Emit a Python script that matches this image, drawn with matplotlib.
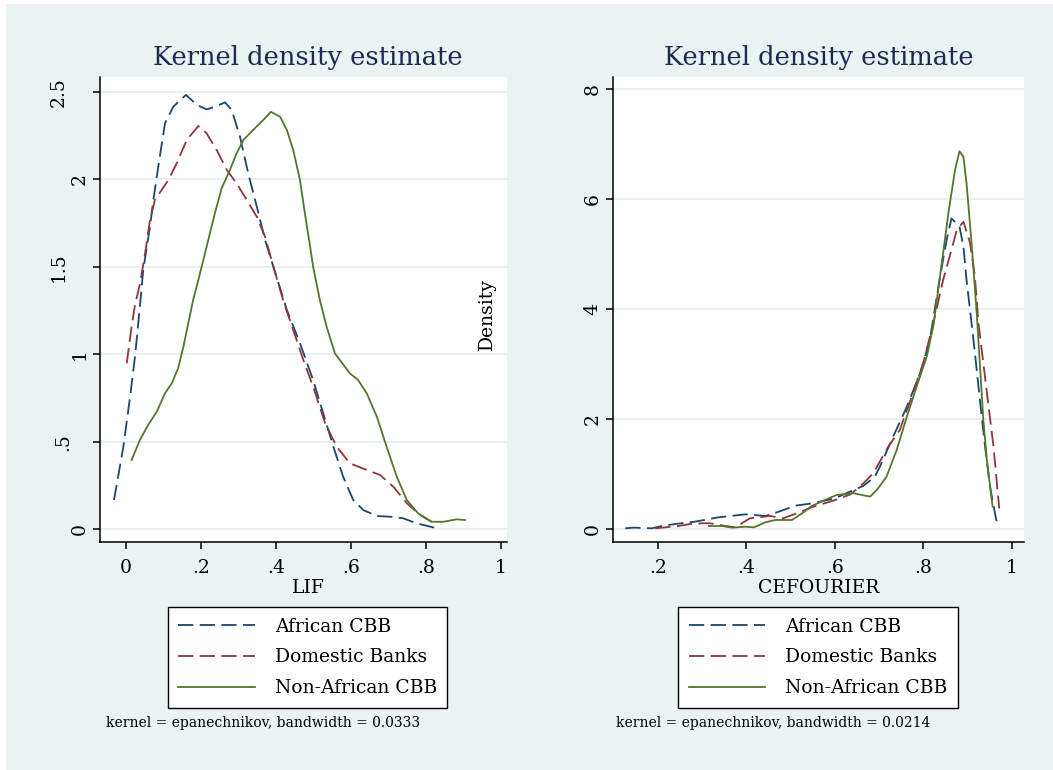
import matplotlib
matplotlib.use("Agg")
import matplotlib.pyplot as plt
import matplotlib.transforms as mtransforms
from matplotlib.patches import Rectangle

## DATA ################################################################
series_names = ["African CBB", "Domestic Banks", "Non-African CBB"]

# LIF panel
lif_african_x = [-0.032, -0.007, 0.011, 0.024, 0.037, 0.046, 0.064, 0.073, 0.086, 0.104, 0.126,
                 0.16, 0.189, 0.215, 0.237, 0.264, 0.282, 0.304, 0.326, 0.349, 0.371, 0.393,
                 0.429, 0.464, 0.499, 0.526, 0.553, 0.579, 0.606, 0.633, 0.669, 0.704, 0.739,
                 0.775, 0.829]
lif_african_y = [0.167, 0.472, 0.758, 0.986, 1.272, 1.482, 1.729, 1.882, 2.072, 2.32, 2.415,
                 2.483, 2.425, 2.4, 2.415, 2.44, 2.396, 2.243, 2.034, 1.843, 1.653, 1.501,
                 1.253, 1.063, 0.853, 0.663, 0.472, 0.301, 0.167, 0.110, 0.076, 0.072, 0.063,
                 0.034, 0.006]
lif_domestic_x = [0.002, 0.015, 0.024, 0.037, 0.051, 0.064, 0.077, 0.095, 0.113, 0.135, 0.162,
                  0.193, 0.215, 0.242, 0.269, 0.295, 0.322, 0.349, 0.371, 0.393, 0.419, 0.473,
                  0.499, 0.531, 0.562, 0.597, 0.642, 0.677, 0.713, 0.749, 0.784, 0.815]
lif_domestic_y = [0.949, 1.158, 1.282, 1.40, 1.577, 1.767, 1.882, 1.939, 1.996, 2.091, 2.225,
                  2.305, 2.263, 2.167, 2.053, 1.977, 1.882, 1.786, 1.672, 1.501, 1.31, 0.967,
                  0.815, 0.606, 0.472, 0.377, 0.339, 0.311, 0.243, 0.149, 0.082, 0.043]
lif_nonafrican_x = [0.015, 0.037, 0.059, 0.082, 0.104, 0.122, 0.139, 0.153, 0.166, 0.179, 0.193,
                    0.215, 0.237, 0.255, 0.277, 0.295, 0.313, 0.339, 0.366, 0.386, 0.411, 0.429,
                    0.446, 0.464, 0.477, 0.491, 0.499, 0.517, 0.535, 0.557, 0.597, 0.619, 0.642,
                    0.669, 0.695, 0.722, 0.749, 0.779, 0.815, 0.846, 0.882, 0.904]
lif_nonafrican_y = [0.396, 0.51, 0.596, 0.672, 0.777, 0.834, 0.92, 1.043, 1.177, 1.31, 1.425,
                    1.615, 1.806, 1.949, 2.053, 2.149, 2.225, 2.282, 2.339, 2.386, 2.358, 2.282,
                    2.167, 1.996, 1.806, 1.615, 1.501, 1.31, 1.158, 1.006, 0.891, 0.853, 0.777,
                    0.643, 0.472, 0.301, 0.167, 0.091, 0.043, 0.043, 0.057, 0.053]

# CEFOURIER panel
cef_african_x = [0.126, 0.145, 0.186, 0.209, 0.239, 0.284, 0.337, 0.398, 0.443, 0.473, 0.511,
                 0.551, 0.6, 0.634, 0.664, 0.69, 0.702, 0.732, 0.763, 0.793, 0.815, 0.838,
                 0.853, 0.864, 0.882, 0.891, 0.898, 0.91, 0.917, 0.929, 0.94, 0.951, 0.966]
cef_african_y = [0.018, 0.03, 0.018, 0.06, 0.096, 0.139, 0.218, 0.272, 0.242, 0.32, 0.43,
                 0.473, 0.564, 0.684, 0.787, 0.95, 1.138, 1.684, 2.229, 2.836, 3.44, 4.59,
                 5.26, 5.65, 5.5, 5.14, 4.53, 3.7, 3.2, 2.29, 1.5, 0.775, 0.138]
cef_domestic_x = [0.194, 0.247, 0.272, 0.3, 0.318, 0.352, 0.375, 0.408, 0.453, 0.483, 0.514,
                  0.551, 0.604, 0.634, 0.657, 0.687, 0.721, 0.747, 0.774, 0.8, 0.823, 0.845,
                  0.864, 0.876, 0.891, 0.906, 0.917, 0.925, 0.936, 0.947, 0.959, 0.972]
cef_domestic_y = [0.018, 0.06, 0.096, 0.109, 0.109, 0.06, 0.036, 0.2, 0.242, 0.2, 0.29,
                  0.41, 0.54, 0.63, 0.775, 1.018, 1.502, 1.805, 2.41, 3.02, 3.75, 4.53,
                  5.08, 5.44, 5.59, 5.2, 4.59, 3.75, 3.02, 2.29, 1.5, 0.38]
cef_nonafrican_x = [0.315, 0.345, 0.367, 0.398, 0.417, 0.443, 0.465, 0.503, 0.526, 0.548, 0.578,
                    0.604, 0.642, 0.68, 0.698, 0.717, 0.74, 0.763, 0.785, 0.808, 0.823, 0.842,
                    0.857, 0.872, 0.882, 0.891, 0.898, 0.91, 0.921, 0.929, 0.936, 0.944, 0.957]
cef_nonafrican_y = [0.06, 0.06, 0.03, 0.047, 0.036, 0.127, 0.169, 0.169, 0.29, 0.424, 0.533,
                    0.624, 0.655, 0.593, 0.745, 0.956, 1.442, 2.047, 2.593, 3.138, 3.7, 4.84,
                    5.75, 6.53, 6.87, 6.77, 6.29, 5.14, 3.93, 2.9, 1.99, 1.26, 0.41]

lif_xticks = [0, 0.2, 0.4, 0.6, 0.8, 1]
lif_xlabels = ["0", ".2", ".4", ".6", ".8", "1"]
lif_yticks = [0, 0.5, 1, 1.5, 2, 2.5]
lif_ylabels = ["0", ".5", "1", "1.5", "2", "2.5"]
cef_xticks = [0.2, 0.4, 0.6, 0.8, 1]
cef_xlabels = [".2", ".4", ".6", ".8", "1"]
cef_yticks = [0, 2, 4, 6, 8]
cef_ylabels = ["0", "2", "4", "6", "8"]

title_text = "Kernel density estimate"
lif_note = "kernel = epanechnikov, bandwidth = 0.0333"
cef_note = "kernel = epanechnikov, bandwidth = 0.0214"
########################################################################

plt.rcParams['font.family'] = 'DejaVu Serif'
plt.rcParams['lines.scale_dashes'] = False

bg = '#eaf2f3'
grid_c = '#e6eef0'
title_c = '#1c2b50'
colors = ['#1a476f', '#90353b', '#55752f']
styles = [(0, (11, 4.6)), (0, (11, 4.6)), '-']
W, H = 1053, 770

fig = plt.figure(figsize=(W / 100, H / 100), dpi=100, facecolor='white')
fig.patches.append(Rectangle((6 / W, 0), 1 - 6 / W, 1 - 4 / H, transform=fig.transFigure,
                             facecolor=bg, edgecolor='none', zorder=-10))

ax1 = fig.add_axes([100 / W, 1 - 542 / H, 407 / W, 465 / H])
ax2 = fig.add_axes([612.7 / W, 1 - 542 / H, 411.3 / W, 465 / H])

# extra left shift (px) of the rotated y labels, by label length
yshift = {1: 0, 2: 17, 3: 21}


def style_axes(ax, xlim, ylim, xticks, xlabels, yticks, ylabels):
    ax.set_facecolor('white')
    ax.spines['top'].set_visible(False)
    ax.spines['right'].set_visible(False)
    for s in ['left', 'bottom']:
        ax.spines[s].set_linewidth(1.1)
        ax.spines[s].set_color('black')
    ax.set_xlim(xlim)
    ax.set_ylim(ylim)
    ax.set_xticks(xticks, xlabels)
    ax.set_yticks(yticks, ylabels)
    ax.tick_params(direction='out', length=5, width=1.1, labelsize=13.5, colors='black')
    ax.tick_params(axis='x', pad=7.5)
    ax.tick_params(axis='y', pad=9.5)
    for lab in ax.get_yticklabels():
        lab.set_rotation(90)
        lab.set_ha('center')
        lab.set_va('center')
        dx = yshift[len(lab.get_text())] / 100
        lab.set_transform(lab.get_transform() + mtransforms.ScaledTranslation(-dx, 0, fig.dpi_scale_trans))
    ax.yaxis.grid(True, color=grid_c, linewidth=1.3)
    ax.set_axisbelow(True)


style_axes(ax1, (-0.0693, 1.016), (-0.0726, 2.585), lif_xticks, lif_xlabels, lif_yticks, lif_ylabels)
style_axes(ax2, (0.0975, 1.028), (-0.231, 8.22), cef_xticks, cef_xlabels, cef_yticks, cef_ylabels)

lif_data = [(lif_african_x, lif_african_y), (lif_domestic_x, lif_domestic_y),
            (lif_nonafrican_x, lif_nonafrican_y)]
cef_data = [(cef_african_x, cef_african_y), (cef_domestic_x, cef_domestic_y),
            (cef_nonafrican_x, cef_nonafrican_y)]

handles = []
for (x, y), c, ls, name in zip(lif_data, colors, styles, series_names):
    h, = ax1.plot(x, y, color=c, linestyle=ls, linewidth=1.3, label=name)
    handles.append(h)
for (x, y), c, ls in zip(cef_data, colors, styles):
    ax2.plot(x, y, color=c, linestyle=ls, linewidth=1.3)

# titles, axis titles
ax1.text(0.511, 1.041, title_text, transform=ax1.transAxes, ha='center', va='center',
         fontsize=18.5, color=title_c)
ax2.text(0.502, 1.041, title_text, transform=ax2.transAxes, ha='center', va='center',
         fontsize=18.5, color=title_c)
ax1.set_xlabel("LIF", fontsize=13.5)
ax1.xaxis.set_label_coords(0.511, -0.08)
ax2.set_xlabel("CEFOURIER", fontsize=13.5)
ax2.xaxis.set_label_coords(0.502, -0.08)
fig.text(486.8 / W, 1 - 314.4 / H, "Density", rotation=90, ha='center', va='center', fontsize=13.5)

# legends
for cx in [307.5 / W, 818 / W]:
    leg = fig.legend(handles, series_names, loc='center', bbox_to_anchor=(cx, 1 - 657.5 / H),
                     fontsize=13.5, frameon=True, fancybox=False, framealpha=1,
                     edgecolor='black', handlelength=4.1, handletextpad=1.05,
                     labelspacing=0.69, borderpad=0.55)
    leg.get_frame().set_linewidth(1.0)

# notes
fig.text(106 / W, 1 - 723 / H, lif_note, ha='left', va='center', fontsize=10)
fig.text(616 / W, 1 - 723 / H, cef_note, ha='left', va='center', fontsize=10)

fig.savefig("out.png", dpi=100, facecolor=fig.get_facecolor())
